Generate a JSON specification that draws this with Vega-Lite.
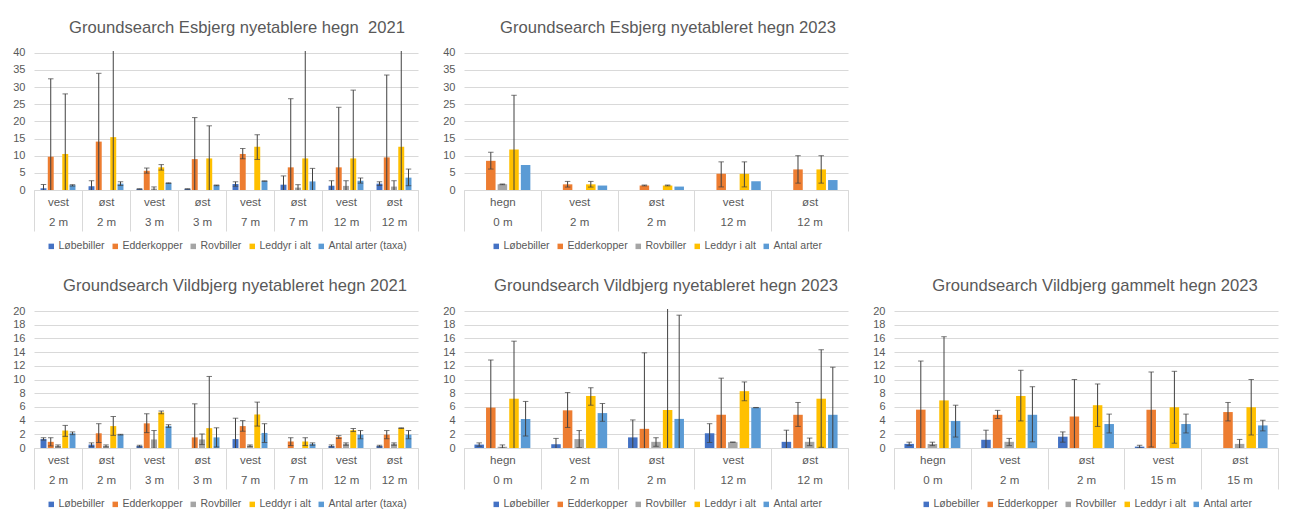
{
  "$schema": "https://vega.github.io/schema/vega-lite/v6.json",
  "padding": {"left": 12, "top": 20, "right": 5, "bottom": 5},
  "background": "white",
  "bounds": "flush",
  "columns": 3,
  "spacing": {"row": 119, "column": 46},
  "data": {"values": [
    {"p":"p1","c":"vest|2 m","s":"Løbebiller","v":0.5,"lo":-0.6,"hi":1.6},
    {"p":"p1","c":"vest|2 m","s":"Edderkopper","v":9.7,"lo":-13,"hi":32.4},
    {"p":"p1","c":"vest|2 m","s":"Rovbiller","v":0,"lo":null,"hi":null},
    {"p":"p1","c":"vest|2 m","s":"Leddyr i alt","v":10.5,"lo":-7,"hi":28},
    {"p":"p1","c":"vest|2 m","s":"Antal arter (taxa)","v":1.4,"lo":1.15,"hi":1.55},
    {"p":"p1","c":"øst|2 m","s":"Løbebiller","v":1.1,"lo":-0.5,"hi":2.7},
    {"p":"p1","c":"øst|2 m","s":"Edderkopper","v":14.1,"lo":-5.8,"hi":34},
    {"p":"p1","c":"øst|2 m","s":"Rovbiller","v":0,"lo":null,"hi":null},
    {"p":"p1","c":"øst|2 m","s":"Leddyr i alt","v":15.4,"lo":-14.6,"hi":45},
    {"p":"p1","c":"øst|2 m","s":"Antal arter (taxa)","v":1.85,"lo":1.3,"hi":2.4},
    {"p":"p1","c":"vest|3 m","s":"Løbebiller","v":0.3,"lo":0.25,"hi":0.35},
    {"p":"p1","c":"vest|3 m","s":"Edderkopper","v":5.6,"lo":4.9,"hi":6.4},
    {"p":"p1","c":"vest|3 m","s":"Rovbiller","v":0.4,"lo":-0.1,"hi":0.9},
    {"p":"p1","c":"vest|3 m","s":"Leddyr i alt","v":6.6,"lo":5.8,"hi":7.4},
    {"p":"p1","c":"vest|3 m","s":"Antal arter (taxa)","v":2,"lo":1.9,"hi":2.1},
    {"p":"p1","c":"øst|3 m","s":"Løbebiller","v":0.3,"lo":0.25,"hi":0.35},
    {"p":"p1","c":"øst|3 m","s":"Edderkopper","v":9,"lo":-3.1,"hi":21.1},
    {"p":"p1","c":"øst|3 m","s":"Rovbiller","v":0,"lo":null,"hi":null},
    {"p":"p1","c":"øst|3 m","s":"Leddyr i alt","v":9.2,"lo":-0.3,"hi":18.7},
    {"p":"p1","c":"øst|3 m","s":"Antal arter (taxa)","v":1.35,"lo":1.25,"hi":1.45},
    {"p":"p1","c":"vest|7 m","s":"Løbebiller","v":1.75,"lo":1.1,"hi":2.4},
    {"p":"p1","c":"vest|7 m","s":"Edderkopper","v":10.5,"lo":9.1,"hi":12.1},
    {"p":"p1","c":"vest|7 m","s":"Rovbiller","v":0,"lo":null,"hi":null},
    {"p":"p1","c":"vest|7 m","s":"Leddyr i alt","v":12.6,"lo":8.9,"hi":16.1},
    {"p":"p1","c":"vest|7 m","s":"Antal arter (taxa)","v":2.6,"lo":2.55,"hi":2.65},
    {"p":"p1","c":"øst|7 m","s":"Løbebiller","v":1.55,"lo":-1,"hi":4.1},
    {"p":"p1","c":"øst|7 m","s":"Edderkopper","v":6.6,"lo":-13.4,"hi":26.6},
    {"p":"p1","c":"øst|7 m","s":"Rovbiller","v":0.7,"lo":-0.15,"hi":1.55},
    {"p":"p1","c":"øst|7 m","s":"Leddyr i alt","v":9.2,"lo":-27,"hi":45},
    {"p":"p1","c":"øst|7 m","s":"Antal arter (taxa)","v":2.5,"lo":-1.3,"hi":6.3},
    {"p":"p1","c":"vest|12 m","s":"Løbebiller","v":1.25,"lo":-0.2,"hi":2.7},
    {"p":"p1","c":"vest|12 m","s":"Edderkopper","v":6.6,"lo":-10.9,"hi":24.1},
    {"p":"p1","c":"vest|12 m","s":"Rovbiller","v":1.2,"lo":-0.3,"hi":2.7},
    {"p":"p1","c":"vest|12 m","s":"Leddyr i alt","v":9.2,"lo":-10.7,"hi":29.1},
    {"p":"p1","c":"vest|12 m","s":"Antal arter (taxa)","v":2.7,"lo":2,"hi":3.5},
    {"p":"p1","c":"øst|12 m","s":"Løbebiller","v":1.85,"lo":1.3,"hi":2.4},
    {"p":"p1","c":"øst|12 m","s":"Edderkopper","v":9.5,"lo":-14.5,"hi":33.5},
    {"p":"p1","c":"øst|12 m","s":"Rovbiller","v":1,"lo":-0.7,"hi":2.7},
    {"p":"p1","c":"øst|12 m","s":"Leddyr i alt","v":12.6,"lo":-20,"hi":45},
    {"p":"p1","c":"øst|12 m","s":"Antal arter (taxa)","v":3.6,"lo":1.25,"hi":6.1},

    {"p":"p2","c":"hegn|0 m","s":"Løbebiller","v":0,"lo":null,"hi":null},
    {"p":"p2","c":"hegn|0 m","s":"Edderkopper","v":8.5,"lo":6.1,"hi":11},
    {"p":"p2","c":"hegn|0 m","s":"Rovbiller","v":1.65,"lo":1.55,"hi":1.75},
    {"p":"p2","c":"hegn|0 m","s":"Leddyr i alt","v":11.8,"lo":-4,"hi":27.6},
    {"p":"p2","c":"hegn|0 m","s":"Antal arter","v":7.3,"lo":null,"hi":null},
    {"p":"p2","c":"vest|2 m","s":"Løbebiller","v":0,"lo":null,"hi":null},
    {"p":"p2","c":"vest|2 m","s":"Edderkopper","v":1.65,"lo":0.85,"hi":2.5},
    {"p":"p2","c":"vest|2 m","s":"Rovbiller","v":0,"lo":null,"hi":null},
    {"p":"p2","c":"vest|2 m","s":"Leddyr i alt","v":1.65,"lo":0.85,"hi":2.5},
    {"p":"p2","c":"vest|2 m","s":"Antal arter","v":1.3,"lo":null,"hi":null},
    {"p":"p2","c":"øst|2 m","s":"Løbebiller","v":0,"lo":null,"hi":null},
    {"p":"p2","c":"øst|2 m","s":"Edderkopper","v":1.3,"lo":1.2,"hi":1.45},
    {"p":"p2","c":"øst|2 m","s":"Rovbiller","v":0,"lo":null,"hi":null},
    {"p":"p2","c":"øst|2 m","s":"Leddyr i alt","v":1.3,"lo":1.2,"hi":1.45},
    {"p":"p2","c":"øst|2 m","s":"Antal arter","v":1,"lo":null,"hi":null},
    {"p":"p2","c":"vest|12 m","s":"Løbebiller","v":0,"lo":null,"hi":null},
    {"p":"p2","c":"vest|12 m","s":"Edderkopper","v":4.7,"lo":0.9,"hi":8.2},
    {"p":"p2","c":"vest|12 m","s":"Rovbiller","v":0,"lo":null,"hi":null},
    {"p":"p2","c":"vest|12 m","s":"Leddyr i alt","v":4.7,"lo":0.9,"hi":8.2},
    {"p":"p2","c":"vest|12 m","s":"Antal arter","v":2.55,"lo":null,"hi":null},
    {"p":"p2","c":"øst|12 m","s":"Løbebiller","v":0,"lo":null,"hi":null},
    {"p":"p2","c":"øst|12 m","s":"Edderkopper","v":6,"lo":2,"hi":10},
    {"p":"p2","c":"øst|12 m","s":"Rovbiller","v":0,"lo":null,"hi":null},
    {"p":"p2","c":"øst|12 m","s":"Leddyr i alt","v":6,"lo":2,"hi":10},
    {"p":"p2","c":"øst|12 m","s":"Antal arter","v":2.9,"lo":null,"hi":null},

    {"p":"p3","c":"vest|2 m","s":"Løbebiller","v":1.3,"lo":1.15,"hi":1.5},
    {"p":"p3","c":"vest|2 m","s":"Edderkopper","v":0.9,"lo":0.3,"hi":1.5},
    {"p":"p3","c":"vest|2 m","s":"Rovbiller","v":0.3,"lo":0.15,"hi":0.45},
    {"p":"p3","c":"vest|2 m","s":"Leddyr i alt","v":2.55,"lo":1.7,"hi":3.3},
    {"p":"p3","c":"vest|2 m","s":"Antal arter (taxa)","v":2.15,"lo":1.95,"hi":2.35},
    {"p":"p3","c":"øst|2 m","s":"Løbebiller","v":0.5,"lo":0.2,"hi":0.75},
    {"p":"p3","c":"øst|2 m","s":"Edderkopper","v":2.15,"lo":0.8,"hi":3.55},
    {"p":"p3","c":"øst|2 m","s":"Rovbiller","v":0.3,"lo":0.15,"hi":0.45},
    {"p":"p3","c":"øst|2 m","s":"Leddyr i alt","v":3.2,"lo":1.85,"hi":4.6},
    {"p":"p3","c":"øst|2 m","s":"Antal arter (taxa)","v":1.95,"lo":1.9,"hi":2},
    {"p":"p3","c":"vest|3 m","s":"Løbebiller","v":0.3,"lo":0.15,"hi":0.4},
    {"p":"p3","c":"vest|3 m","s":"Edderkopper","v":3.6,"lo":2.25,"hi":5},
    {"p":"p3","c":"vest|3 m","s":"Rovbiller","v":1.25,"lo":-0.05,"hi":2.55},
    {"p":"p3","c":"vest|3 m","s":"Leddyr i alt","v":5.2,"lo":5,"hi":5.4},
    {"p":"p3","c":"vest|3 m","s":"Antal arter (taxa)","v":3.2,"lo":3,"hi":3.4},
    {"p":"p3","c":"øst|3 m","s":"Løbebiller","v":0,"lo":null,"hi":null},
    {"p":"p3","c":"øst|3 m","s":"Edderkopper","v":1.55,"lo":-3.3,"hi":6.45},
    {"p":"p3","c":"øst|3 m","s":"Rovbiller","v":1.25,"lo":0.5,"hi":2.05},
    {"p":"p3","c":"øst|3 m","s":"Leddyr i alt","v":2.9,"lo":-4.7,"hi":10.45},
    {"p":"p3","c":"øst|3 m","s":"Antal arter (taxa)","v":1.55,"lo":0.15,"hi":2.95},
    {"p":"p3","c":"vest|7 m","s":"Løbebiller","v":1.3,"lo":-1.7,"hi":4.35},
    {"p":"p3","c":"vest|7 m","s":"Edderkopper","v":3.2,"lo":2.45,"hi":4},
    {"p":"p3","c":"vest|7 m","s":"Rovbiller","v":0.35,"lo":0.2,"hi":0.45},
    {"p":"p3","c":"vest|7 m","s":"Leddyr i alt","v":4.9,"lo":3.2,"hi":6.7},
    {"p":"p3","c":"vest|7 m","s":"Antal arter (taxa)","v":2.2,"lo":0.8,"hi":3.55},
    {"p":"p3","c":"øst|7 m","s":"Løbebiller","v":0,"lo":null,"hi":null},
    {"p":"p3","c":"øst|7 m","s":"Edderkopper","v":0.95,"lo":0.35,"hi":1.5},
    {"p":"p3","c":"øst|7 m","s":"Rovbiller","v":0,"lo":null,"hi":null},
    {"p":"p3","c":"øst|7 m","s":"Leddyr i alt","v":0.95,"lo":0.35,"hi":1.5},
    {"p":"p3","c":"øst|7 m","s":"Antal arter (taxa)","v":0.6,"lo":0.4,"hi":0.75},
    {"p":"p3","c":"vest|12 m","s":"Løbebiller","v":0.3,"lo":0.15,"hi":0.45},
    {"p":"p3","c":"vest|12 m","s":"Edderkopper","v":1.6,"lo":1.4,"hi":1.8},
    {"p":"p3","c":"vest|12 m","s":"Rovbiller","v":0.6,"lo":0.4,"hi":0.75},
    {"p":"p3","c":"vest|12 m","s":"Leddyr i alt","v":2.6,"lo":2.4,"hi":2.85},
    {"p":"p3","c":"vest|12 m","s":"Antal arter (taxa)","v":1.95,"lo":1.35,"hi":2.55},
    {"p":"p3","c":"øst|12 m","s":"Løbebiller","v":0.3,"lo":0.15,"hi":0.4},
    {"p":"p3","c":"øst|12 m","s":"Edderkopper","v":1.95,"lo":1.35,"hi":2.55},
    {"p":"p3","c":"øst|12 m","s":"Rovbiller","v":0.6,"lo":0.4,"hi":0.75},
    {"p":"p3","c":"øst|12 m","s":"Leddyr i alt","v":2.9,"lo":2.85,"hi":2.95},
    {"p":"p3","c":"øst|12 m","s":"Antal arter (taxa)","v":1.95,"lo":1.35,"hi":2.55},

    {"p":"p4","c":"hegn|0 m","s":"Løbebiller","v":0.5,"lo":0.25,"hi":0.75},
    {"p":"p4","c":"hegn|0 m","s":"Edderkopper","v":5.9,"lo":-1,"hi":12.85},
    {"p":"p4","c":"hegn|0 m","s":"Rovbiller","v":0.2,"lo":0,"hi":0.45},
    {"p":"p4","c":"hegn|0 m","s":"Leddyr i alt","v":7.2,"lo":-1.2,"hi":15.6},
    {"p":"p4","c":"hegn|0 m","s":"Antal arter","v":4.25,"lo":1.75,"hi":6.8},
    {"p":"p4","c":"vest|2 m","s":"Løbebiller","v":0.55,"lo":-0.2,"hi":1.4},
    {"p":"p4","c":"vest|2 m","s":"Edderkopper","v":5.5,"lo":3,"hi":8.1},
    {"p":"p4","c":"vest|2 m","s":"Rovbiller","v":1.3,"lo":0.05,"hi":2.55},
    {"p":"p4","c":"vest|2 m","s":"Leddyr i alt","v":7.6,"lo":6.25,"hi":8.8},
    {"p":"p4","c":"vest|2 m","s":"Antal arter","v":5.1,"lo":3.9,"hi":6.5},
    {"p":"p4","c":"øst|2 m","s":"Løbebiller","v":1.55,"lo":-1,"hi":4.1},
    {"p":"p4","c":"øst|2 m","s":"Edderkopper","v":2.8,"lo":-8.3,"hi":13.9},
    {"p":"p4","c":"øst|2 m","s":"Rovbiller","v":0.9,"lo":0.25,"hi":1.5},
    {"p":"p4","c":"øst|2 m","s":"Leddyr i alt","v":5.55,"lo":-9,"hi":21},
    {"p":"p4","c":"øst|2 m","s":"Antal arter","v":4.25,"lo":-10.9,"hi":19.4},
    {"p":"p4","c":"vest|12 m","s":"Løbebiller","v":2.15,"lo":0.8,"hi":3.55},
    {"p":"p4","c":"vest|12 m","s":"Edderkopper","v":4.85,"lo":-0.5,"hi":10.2},
    {"p":"p4","c":"vest|12 m","s":"Rovbiller","v":0.85,"lo":0.83,"hi":0.87},
    {"p":"p4","c":"vest|12 m","s":"Leddyr i alt","v":8.3,"lo":6.9,"hi":9.65},
    {"p":"p4","c":"vest|12 m","s":"Antal arter","v":5.9,"lo":5.88,"hi":5.92},
    {"p":"p4","c":"øst|12 m","s":"Løbebiller","v":0.9,"lo":-0.8,"hi":2.6},
    {"p":"p4","c":"øst|12 m","s":"Edderkopper","v":4.85,"lo":3.15,"hi":6.65},
    {"p":"p4","c":"øst|12 m","s":"Rovbiller","v":0.9,"lo":0.35,"hi":1.45},
    {"p":"p4","c":"øst|12 m","s":"Leddyr i alt","v":7.2,"lo":0.1,"hi":14.35},
    {"p":"p4","c":"øst|12 m","s":"Antal arter","v":4.85,"lo":-2.1,"hi":11.8},

    {"p":"p5","c":"hegn|0 m","s":"Løbebiller","v":0.6,"lo":0.35,"hi":0.85},
    {"p":"p5","c":"hegn|0 m","s":"Edderkopper","v":5.6,"lo":-1.5,"hi":12.7},
    {"p":"p5","c":"hegn|0 m","s":"Rovbiller","v":0.6,"lo":0.35,"hi":0.85},
    {"p":"p5","c":"hegn|0 m","s":"Leddyr i alt","v":6.95,"lo":-2.3,"hi":16.25},
    {"p":"p5","c":"hegn|0 m","s":"Antal arter","v":3.95,"lo":1.6,"hi":6.25},
    {"p":"p5","c":"vest|2 m","s":"Løbebiller","v":1.2,"lo":-0.2,"hi":2.6},
    {"p":"p5","c":"vest|2 m","s":"Edderkopper","v":4.85,"lo":4.3,"hi":5.5},
    {"p":"p5","c":"vest|2 m","s":"Rovbiller","v":0.9,"lo":0.35,"hi":1.4},
    {"p":"p5","c":"vest|2 m","s":"Leddyr i alt","v":7.6,"lo":3.95,"hi":11.35},
    {"p":"p5","c":"vest|2 m","s":"Antal arter","v":4.85,"lo":0.9,"hi":8.95},
    {"p":"p5","c":"øst|2 m","s":"Løbebiller","v":1.65,"lo":0.85,"hi":2.35},
    {"p":"p5","c":"øst|2 m","s":"Edderkopper","v":4.6,"lo":-0.8,"hi":10},
    {"p":"p5","c":"øst|2 m","s":"Rovbiller","v":0,"lo":null,"hi":null},
    {"p":"p5","c":"øst|2 m","s":"Leddyr i alt","v":6.25,"lo":3.15,"hi":9.35},
    {"p":"p5","c":"øst|2 m","s":"Antal arter","v":3.5,"lo":2.2,"hi":4.95},
    {"p":"p5","c":"vest|15 m","s":"Løbebiller","v":0.2,"lo":0,"hi":0.4},
    {"p":"p5","c":"vest|15 m","s":"Edderkopper","v":5.6,"lo":0.15,"hi":11.1},
    {"p":"p5","c":"vest|15 m","s":"Rovbiller","v":0,"lo":null,"hi":null},
    {"p":"p5","c":"vest|15 m","s":"Leddyr i alt","v":5.95,"lo":0.7,"hi":11.2},
    {"p":"p5","c":"vest|15 m","s":"Antal arter","v":3.5,"lo":2.2,"hi":4.95},
    {"p":"p5","c":"øst|15 m","s":"Løbebiller","v":0,"lo":null,"hi":null},
    {"p":"p5","c":"øst|15 m","s":"Edderkopper","v":5.25,"lo":3.95,"hi":6.65},
    {"p":"p5","c":"øst|15 m","s":"Rovbiller","v":0.6,"lo":-0.05,"hi":1.25},
    {"p":"p5","c":"øst|15 m","s":"Leddyr i alt","v":5.95,"lo":1.9,"hi":10},
    {"p":"p5","c":"øst|15 m","s":"Antal arter","v":3.3,"lo":2.5,"hi":4.05}
  ]},
  "resolve": {
    "scale": {"color": "independent", "x": "independent", "y": "independent", "xOffset": "independent"},
    "legend": {"color": "independent"},
    "axis": {"x": "independent", "y": "independent"}
  },
  "concat": [
    {
      "title": {"text": "Groundsearch Esbjerg nyetablere hegn\u00a0 2021", "dx": 11},
      "width": 384, "height": 139,
      "transform": [{"filter": "datum.p === 'p1'"}],
      "encoding": {
        "x": {"field": "c", "type": "nominal", "sort": ["vest|2 m","øst|2 m","vest|3 m","øst|3 m","vest|7 m","øst|7 m","vest|12 m","øst|12 m"], "scale": {"paddingInner": 0, "paddingOuter": 0}, "axis": {"title": null}},
        "xOffset": {"field": "s", "type": "nominal", "scale": {"domain": ["Løbebiller","Edderkopper","Rovbiller","Leddyr i alt","Antal arter (taxa)"], "paddingInner": 0.18, "paddingOuter": 0.9}}
      },
      "layer": [
        {"mark": {"type": "bar"}, "encoding": {
          "y": {"field": "v", "type": "quantitative", "scale": {"domain": [0, 40.5], "nice": false}, "axis": {"title": null, "values": [0,5,10,15,20,25,30,35,40]}},
          "color": {"field": "s", "type": "nominal", "scale": {"domain": ["Løbebiller","Edderkopper","Rovbiller","Leddyr i alt","Antal arter (taxa)"], "range": ["#4472C4","#ED7D31","#A5A5A5","#FFC000","#5B9BD5"]}, "legend": {"title": null, "orient": "bottom", "direction": "horizontal"}}}},
        {"mark": {"type": "rule", "clip": true, "color": "#404040", "strokeWidth": 1}, "encoding": {
          "y": {"field": "lo", "type": "quantitative", "scale": {"domain": [0, 40.5], "nice": false}, "axis": {"title": null, "values": [0,5,10,15,20,25,30,35,40]}}, "y2": {"field": "hi"}}},
        {"mark": {"type": "tick", "clip": true, "color": "#404040", "size": 5.5, "thickness": 1}, "encoding": {
          "y": {"field": "hi", "type": "quantitative", "scale": {"domain": [0, 40.5], "nice": false}, "axis": {"title": null, "values": [0,5,10,15,20,25,30,35,40]}}}},
        {"mark": {"type": "tick", "clip": true, "color": "#404040", "size": 5.5, "thickness": 1}, "encoding": {
          "y": {"field": "lo", "type": "quantitative", "scale": {"domain": [0, 40.5], "nice": false}, "axis": {"title": null, "values": [0,5,10,15,20,25,30,35,40]}}}}
      ]
    },
    {
      "title": {"text": "Groundsearch Esbjerg nyetableret hegn 2023", "dx": 12},
      "width": 384, "height": 139,
      "transform": [{"filter": "datum.p === 'p2'"}],
      "encoding": {
        "x": {"field": "c", "type": "nominal", "sort": ["hegn|0 m","vest|2 m","øst|2 m","vest|12 m","øst|12 m"], "scale": {"paddingInner": 0, "paddingOuter": 0}, "axis": {"title": null}},
        "xOffset": {"field": "s", "type": "nominal", "scale": {"domain": ["Løbebiller","Edderkopper","Rovbiller","Leddyr i alt","Antal arter"], "paddingInner": 0.18, "paddingOuter": 0.9}}
      },
      "layer": [
        {"mark": {"type": "bar"}, "encoding": {
          "y": {"field": "v", "type": "quantitative", "scale": {"domain": [0, 40.5], "nice": false}, "axis": {"title": null, "values": [0,5,10,15,20,25,30,35,40]}},
          "color": {"field": "s", "type": "nominal", "scale": {"domain": ["Løbebiller","Edderkopper","Rovbiller","Leddyr i alt","Antal arter"], "range": ["#4472C4","#ED7D31","#A5A5A5","#FFC000","#5B9BD5"]}, "legend": {"title": null, "orient": "bottom", "direction": "horizontal"}}}},
        {"mark": {"type": "rule", "clip": true, "color": "#404040", "strokeWidth": 1}, "encoding": {
          "y": {"field": "lo", "type": "quantitative", "scale": {"domain": [0, 40.5], "nice": false}, "axis": {"title": null, "values": [0,5,10,15,20,25,30,35,40]}}, "y2": {"field": "hi"}}},
        {"mark": {"type": "tick", "clip": true, "color": "#404040", "size": 5.5, "thickness": 1}, "encoding": {
          "y": {"field": "hi", "type": "quantitative", "scale": {"domain": [0, 40.5], "nice": false}, "axis": {"title": null, "values": [0,5,10,15,20,25,30,35,40]}}}},
        {"mark": {"type": "tick", "clip": true, "color": "#404040", "size": 5.5, "thickness": 1}, "encoding": {
          "y": {"field": "lo", "type": "quantitative", "scale": {"domain": [0, 40.5], "nice": false}, "axis": {"title": null, "values": [0,5,10,15,20,25,30,35,40]}}}}
      ]
    },
    {
      "width": 384, "height": 139,
      "data": {"values": []},
      "mark": {"type": "text"},
      "encoding": {}
    },
    {
      "title": {"text": "Groundsearch Vildbjerg nyetableret hegn 2021", "dx": 9},
      "width": 384, "height": 139,
      "transform": [{"filter": "datum.p === 'p3'"}],
      "encoding": {
        "x": {"field": "c", "type": "nominal", "sort": ["vest|2 m","øst|2 m","vest|3 m","øst|3 m","vest|7 m","øst|7 m","vest|12 m","øst|12 m"], "scale": {"paddingInner": 0, "paddingOuter": 0}, "axis": {"title": null}},
        "xOffset": {"field": "s", "type": "nominal", "scale": {"domain": ["Løbebiller","Edderkopper","Rovbiller","Leddyr i alt","Antal arter (taxa)"], "paddingInner": 0.18, "paddingOuter": 0.9}}
      },
      "layer": [
        {"mark": {"type": "bar"}, "encoding": {
          "y": {"field": "v", "type": "quantitative", "scale": {"domain": [0, 20.3], "nice": false}, "axis": {"title": null, "values": [0,2,4,6,8,10,12,14,16,18,20]}},
          "color": {"field": "s", "type": "nominal", "scale": {"domain": ["Løbebiller","Edderkopper","Rovbiller","Leddyr i alt","Antal arter (taxa)"], "range": ["#4472C4","#ED7D31","#A5A5A5","#FFC000","#5B9BD5"]}, "legend": {"title": null, "orient": "bottom", "direction": "horizontal"}}}},
        {"mark": {"type": "rule", "clip": true, "color": "#404040", "strokeWidth": 1}, "encoding": {
          "y": {"field": "lo", "type": "quantitative", "scale": {"domain": [0, 20.3], "nice": false}, "axis": {"title": null, "values": [0,2,4,6,8,10,12,14,16,18,20]}}, "y2": {"field": "hi"}}},
        {"mark": {"type": "tick", "clip": true, "color": "#404040", "size": 5.5, "thickness": 1}, "encoding": {
          "y": {"field": "hi", "type": "quantitative", "scale": {"domain": [0, 20.3], "nice": false}, "axis": {"title": null, "values": [0,2,4,6,8,10,12,14,16,18,20]}}}},
        {"mark": {"type": "tick", "clip": true, "color": "#404040", "size": 5.5, "thickness": 1}, "encoding": {
          "y": {"field": "lo", "type": "quantitative", "scale": {"domain": [0, 20.3], "nice": false}, "axis": {"title": null, "values": [0,2,4,6,8,10,12,14,16,18,20]}}}}
      ]
    },
    {
      "title": {"text": "Groundsearch Vildbjerg nyetableret hegn 2023", "dx": 10},
      "width": 384, "height": 139,
      "transform": [{"filter": "datum.p === 'p4'"}],
      "encoding": {
        "x": {"field": "c", "type": "nominal", "sort": ["hegn|0 m","vest|2 m","øst|2 m","vest|12 m","øst|12 m"], "scale": {"paddingInner": 0, "paddingOuter": 0}, "axis": {"title": null}},
        "xOffset": {"field": "s", "type": "nominal", "scale": {"domain": ["Løbebiller","Edderkopper","Rovbiller","Leddyr i alt","Antal arter"], "paddingInner": 0.18, "paddingOuter": 0.9}}
      },
      "layer": [
        {"mark": {"type": "bar"}, "encoding": {
          "y": {"field": "v", "type": "quantitative", "scale": {"domain": [0, 20.3], "nice": false}, "axis": {"title": null, "values": [0,2,4,6,8,10,12,14,16,18,20]}},
          "color": {"field": "s", "type": "nominal", "scale": {"domain": ["Løbebiller","Edderkopper","Rovbiller","Leddyr i alt","Antal arter"], "range": ["#4472C4","#ED7D31","#A5A5A5","#FFC000","#5B9BD5"]}, "legend": {"title": null, "orient": "bottom", "direction": "horizontal"}}}},
        {"mark": {"type": "rule", "clip": true, "color": "#404040", "strokeWidth": 1}, "encoding": {
          "y": {"field": "lo", "type": "quantitative", "scale": {"domain": [0, 20.3], "nice": false}, "axis": {"title": null, "values": [0,2,4,6,8,10,12,14,16,18,20]}}, "y2": {"field": "hi"}}},
        {"mark": {"type": "tick", "clip": true, "color": "#404040", "size": 5.5, "thickness": 1}, "encoding": {
          "y": {"field": "hi", "type": "quantitative", "scale": {"domain": [0, 20.3], "nice": false}, "axis": {"title": null, "values": [0,2,4,6,8,10,12,14,16,18,20]}}}},
        {"mark": {"type": "tick", "clip": true, "color": "#404040", "size": 5.5, "thickness": 1}, "encoding": {
          "y": {"field": "lo", "type": "quantitative", "scale": {"domain": [0, 20.3], "nice": false}, "axis": {"title": null, "values": [0,2,4,6,8,10,12,14,16,18,20]}}}}
      ]
    },
    {
      "title": {"text": "Groundsearch Vildbjerg gammelt hegn 2023", "dx": 9},
      "width": 384, "height": 139,
      "transform": [{"filter": "datum.p === 'p5'"}],
      "encoding": {
        "x": {"field": "c", "type": "nominal", "sort": ["hegn|0 m","vest|2 m","øst|2 m","vest|15 m","øst|15 m"], "scale": {"paddingInner": 0, "paddingOuter": 0}, "axis": {"title": null}},
        "xOffset": {"field": "s", "type": "nominal", "scale": {"domain": ["Løbebiller","Edderkopper","Rovbiller","Leddyr i alt","Antal arter"], "paddingInner": 0.18, "paddingOuter": 0.9}}
      },
      "layer": [
        {"mark": {"type": "bar"}, "encoding": {
          "y": {"field": "v", "type": "quantitative", "scale": {"domain": [0, 20.3], "nice": false}, "axis": {"title": null, "values": [0,2,4,6,8,10,12,14,16,18,20]}},
          "color": {"field": "s", "type": "nominal", "scale": {"domain": ["Løbebiller","Edderkopper","Rovbiller","Leddyr i alt","Antal arter"], "range": ["#4472C4","#ED7D31","#A5A5A5","#FFC000","#5B9BD5"]}, "legend": {"title": null, "orient": "bottom", "direction": "horizontal"}}}},
        {"mark": {"type": "rule", "clip": true, "color": "#404040", "strokeWidth": 1}, "encoding": {
          "y": {"field": "lo", "type": "quantitative", "scale": {"domain": [0, 20.3], "nice": false}, "axis": {"title": null, "values": [0,2,4,6,8,10,12,14,16,18,20]}}, "y2": {"field": "hi"}}},
        {"mark": {"type": "tick", "clip": true, "color": "#404040", "size": 5.5, "thickness": 1}, "encoding": {
          "y": {"field": "hi", "type": "quantitative", "scale": {"domain": [0, 20.3], "nice": false}, "axis": {"title": null, "values": [0,2,4,6,8,10,12,14,16,18,20]}}}},
        {"mark": {"type": "tick", "clip": true, "color": "#404040", "size": 5.5, "thickness": 1}, "encoding": {
          "y": {"field": "lo", "type": "quantitative", "scale": {"domain": [0, 20.3], "nice": false}, "axis": {"title": null, "values": [0,2,4,6,8,10,12,14,16,18,20]}}}}
      ]
    }
  ],
  "config": {
    "font": "Liberation Sans",
    "view": {"stroke": null},
    "axis": {"labelColor": "#595959", "labelFont": "Liberation Sans"},
    "axisX": {"labelExpr": "split(datum.label, '|')", "labelAngle": 0, "labelFontSize": 11.5, "labelLineHeight": 20.6, "labelBaseline": "top", "labelPadding": -34.6, "labelOverlap": false, "tickBand": "extent", "tickSize": 41, "tickColor": "#d9d9d9", "domainColor": "#d9d9d9", "grid": false},
    "axisY": {"grid": true, "gridColor": "#d9d9d9", "domain": false, "ticks": false, "labelPadding": 9, "labelFontSize": 11, "labelOverlap": false},
    "legend": {"symbolType": "square", "symbolSize": 30, "symbolStrokeWidth": 0, "labelFontSize": 10.5, "labelColor": "#595959", "labelOffset": 2, "columnPadding": 5, "offset": 9, "layout": {"bottom": {"anchor": "middle"}}},
    "title": {"fontSize": 16.6, "fontWeight": "normal", "color": "#595959", "anchor": "middle", "frame": "group", "baseline": "alphabetic", "offset": 10}
  }
}
